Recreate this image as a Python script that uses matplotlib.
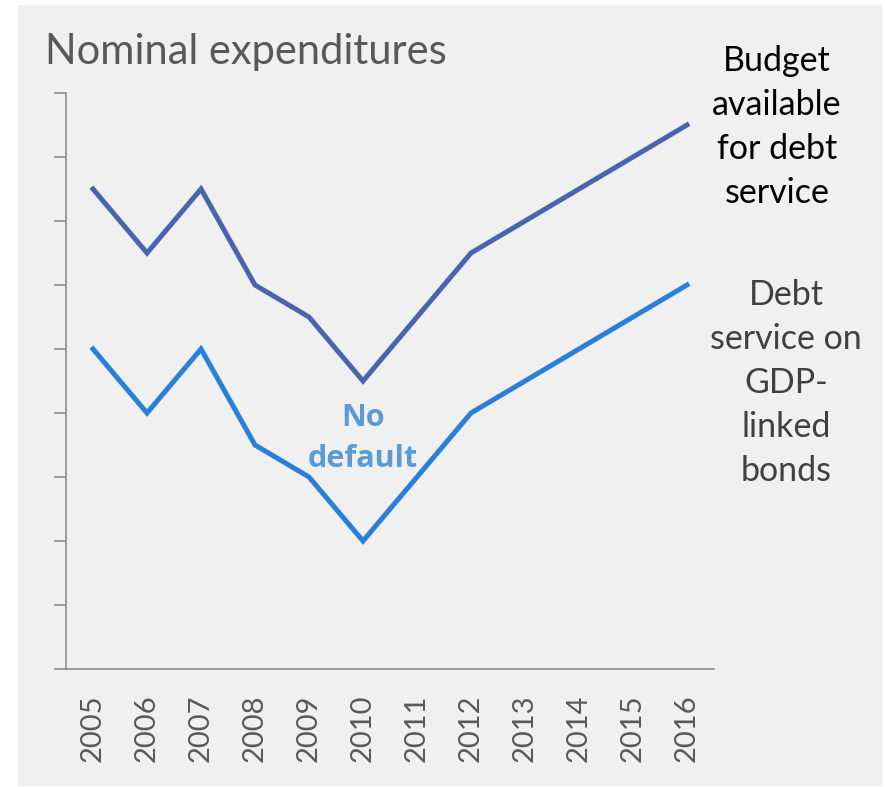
import matplotlib
matplotlib.use("Agg")
import matplotlib.pyplot as plt
from matplotlib.patches import Rectangle

# data (arbitrary units, y axis has no labels)
years = ["2005", "2006", "2007", "2008", "2009", "2010",
         "2011", "2012", "2013", "2014", "2015", "2016"]
budget = [7.5, 6.5, 7.5, 6.0, 5.5, 4.5, 5.5, 6.5, 7.0, 7.5, 8.0, 8.5]
debt_service = [5.0, 4.0, 5.0, 3.5, 3.0, 2.0, 3.0, 4.0, 4.5, 5.0, 5.5, 6.0]
y_ticks = list(range(0, 10))

plt.rcParams["font.family"] = ["Lato", "DejaVu Sans"]

fig = plt.figure(figsize=(8.85, 7.87), dpi=100)
fig.patch.set_facecolor("white")

# grey panel behind everything
fig.patches.append(Rectangle((18 / 885, 1 / 787), 865 / 885, 781 / 787,
                             transform=fig.transFigure, facecolor="#f0f0f0",
                             edgecolor="none", zorder=-10))

ax = fig.add_axes([66 / 885, 1 - 669 / 787, 648 / 885, 576 / 787])
ax.set_facecolor("none")

x = range(len(years))
ax.plot(x, budget, color="#4865ad", lw=3.6, solid_joinstyle="miter")
ax.plot(x, debt_service, color="#2a7fd8", lw=3.6, solid_joinstyle="miter")

ax.set_xlim(-0.5, len(years) - 0.5)
ax.set_ylim(0, 9)
ax.set_xticks(list(x))
ax.set_xticklabels(years, rotation=90, color="#595959", fontsize=21)
ax.set_yticks(y_ticks)
ax.set_yticklabels([])

ax.tick_params(axis="x", length=0, pad=18)
ax.tick_params(axis="y", length=8.6, width=1.1, color="#868686", direction="out")

for side in ["top", "right"]:
    ax.spines[side].set_visible(False)
for side in ["left", "bottom"]:
    ax.spines[side].set_color("#868686")
    ax.spines[side].set_linewidth(1.1)

# Lato here has no bold face, so the annotation uses Open Sans bold
ax.text(5, 3.6, "No\ndefault", ha="center", va="center", color="#5b9bd5",
        fontsize=22, fontweight="bold", linespacing=1.5,
        family=["Open Sans", "DejaVu Sans"])

fig.text(45 / 885, 1 - 52 / 787, "Nominal expenditures", ha="left", va="center",
         color="#595959", fontsize=30)

fig.text(777 / 885, 1 - 127 / 787, "Budget\navailable\nfor debt\nservice",
         ha="center", va="center", color="black", fontsize=24.5, linespacing=1.46)
fig.text(786 / 885, 1 - 383 / 787, "Debt\nservice on\nGDP-\nlinked\nbonds",
         ha="center", va="center", color="#404040", fontsize=24.5, linespacing=1.46)

fig.savefig("out.png", dpi=100, facecolor="white")
